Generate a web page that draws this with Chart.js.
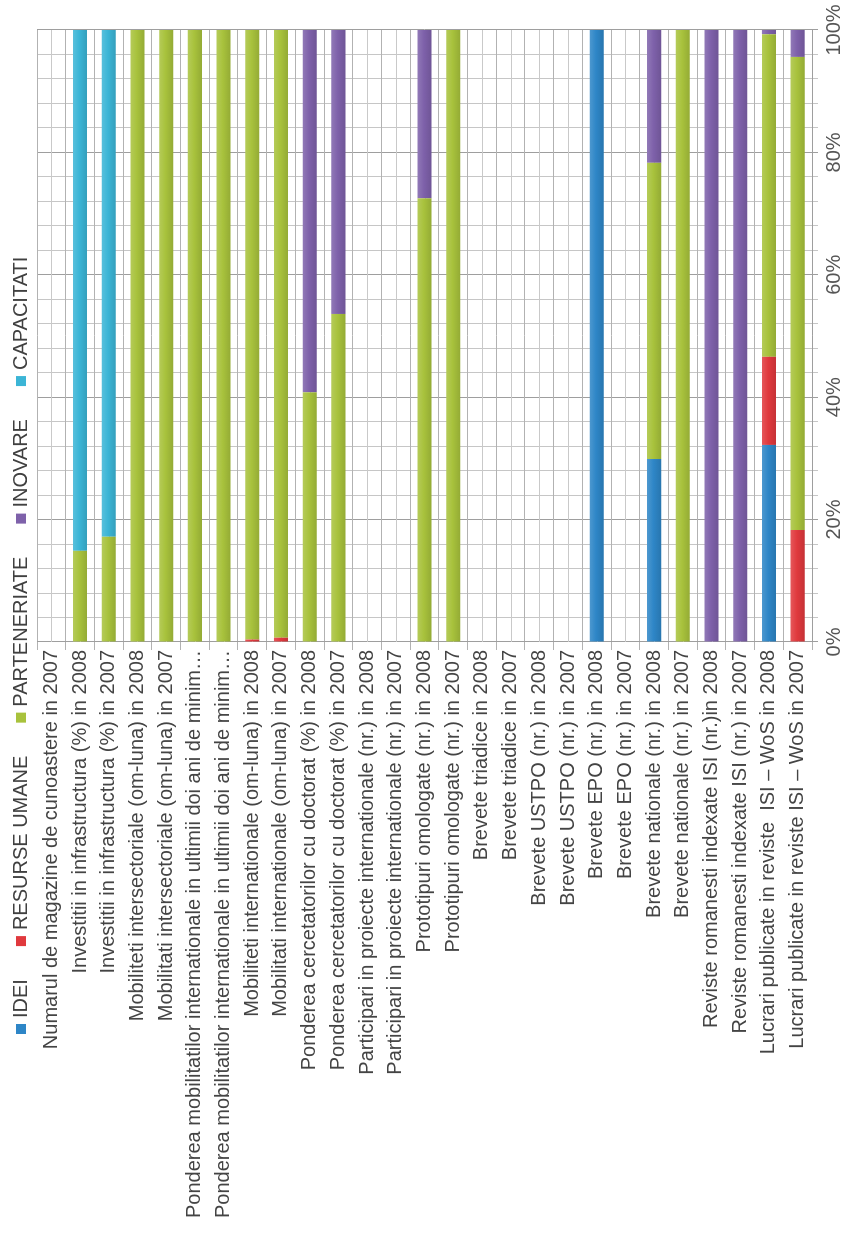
<!DOCTYPE html>
<html>
<head>
<meta charset="utf-8">
<script src="https://cdn.jsdelivr.net/npm/chart.js@4.4.1/dist/chart.umd.min.js"></script>
<style>
  html, body { margin: 0; padding: 0; background: #fff; overflow: hidden; }
  /* the chart is laid out landscape, then turned a quarter turn to the left */
  #wrap {
    position: absolute; left: 0; top: 0;
    width: 1250px; height: 849px;
    transform-origin: 0 0;
    transform: translate(0, 1250px) rotate(-90deg);
  }
</style>
</head>
<body>
<div id="wrap"><canvas id="bars"></canvas></div>
<script>
const categories = [
  "Numarul de magazine de cunoastere in 2007",
  "Investitii in infrastructura (%) in 2008",
  "Investitii in infrastructura (%) in 2007",
  "Mobiliteti intersectoriale (om-luna) in 2008",
  "Mobilitati intersectoriale (om-luna) in 2007",
  "Ponderea mobilitatilor internationale in ultimii doi ani de minim\u2026",
  "Ponderea mobilitatilor internationale in ultimii doi ani de minim\u2026",
  "Mobiliteti internationale (om-luna) in 2008",
  "Mobilitati internationale (om-luna) in 2007",
  "Ponderea cercetatorilor cu doctorat (%) in 2008",
  "Ponderea cercetatorilor cu doctorat (%) in 2007",
  "Participari in proiecte internationale (nr.) in 2008",
  "Participari in proiecte internationale (nr.) in 2007",
  "Prototipuri omologate (nr.) in 2008",
  "Prototipuri omologate (nr.) in 2007",
  "Brevete triadice in 2008",
  "Brevete triadice in 2007",
  "Brevete USTPO (nr.) in 2008",
  "Brevete USTPO (nr.) in 2007",
  "Brevete EPO (nr.) in 2008",
  "Brevete EPO (nr.) in 2007",
  "Brevete nationale (nr.) in 2008",
  "Brevete nationale (nr.) in 2007",
  "Reviste romanesti indexate ISI (nr.)in 2008",
  "Reviste romanesti indexate ISI (nr.) in 2007",
  "Lucrari publicate in reviste  ISI \u2013 WoS in 2008",
  "Lucrari publicate in reviste ISI \u2013 WoS in 2007"
];

// share of each programme, percent
const idei          = [0, 0, 0, 0, 0, 0, 0, 0, 0, 0, 0, 0, 0, 0, 0, 0, 0, 0, 0, 100, 0, 29.9, 0, 0, 0, 32.2, 0];
const resurseUmane  = [0, 0, 0, 0, 0, 0, 0, 0.4, 0.7, 0, 0, 0, 0, 0, 0, 0, 0, 0, 0, 0, 0, 0, 0, 0, 0, 14.4, 18.3];
const parteneriate  = [0, 14.9, 17.2, 100, 100, 100, 100, 99.6, 99.3, 40.8, 53.6, 0, 0, 72.5, 100, 0, 0, 0, 0, 0, 0, 48.4, 100, 0, 0, 52.7, 77.3];
const inovare       = [0, 0, 0, 0, 0, 0, 0, 0, 0, 59.2, 46.4, 0, 0, 27.5, 0, 0, 0, 0, 0, 0, 0, 21.7, 0, 100, 100, 0.7, 4.4];
const capacitati    = [0, 85.1, 82.8, 0, 0, 0, 0, 0, 0, 0, 0, 0, 0, 0, 0, 0, 0, 0, 0, 0, 0, 0, 0, 0, 0, 0, 0];

const seriesNames  = ["IDEI", "RESURSE UMANE", "PARTENERIATE", "INOVARE", "CAPACITATI"];
const seriesValues = [idei, resurseUmane, parteneriate, inovare, capacitati];
const seriesColors = ["#2e86c7", "#e0393d", "#a8c23c", "#7e61aa", "#3bb5d6"];

const percentTicks = [0, 20, 40, 60, 80, 100];

const FONT = "'Liberation Sans', Arial, sans-serif";

// mix a hex colour toward white (t > 0) or black (t < 0)
function tint(hex, t) {
  const n = parseInt(hex.slice(1), 16);
  const ch = [(n >> 16) & 255, (n >> 8) & 255, n & 255].map((v) =>
    Math.round(t > 0 ? v + (255 - v) * t : v * (1 + t))
  );
  return "rgb(" + ch.join(",") + ")";
}

// bars are shaded across their thickness, light edge to dark edge
function barFill(hex) {
  return (c) => {
    const chart = c.chart;
    const y = chart.scales && chart.scales.y;
    if (!y || c.dataIndex === undefined || !chart.chartArea) return hex;
    const mid = y.getPixelForValue(c.dataIndex);
    const g = chart.ctx.createLinearGradient(0, mid - 7, 0, mid + 7);
    g.addColorStop(0, tint(hex, 0.15));
    g.addColorStop(0.45, hex);
    g.addColorStop(1, tint(hex, -0.12));
    return g;
  };
}

// light line through the middle of every category row
const midLines = {
  id: "midLines",
  beforeDatasetsDraw(chart) {
    const { ctx, chartArea, scales } = chart;
    ctx.save();
    ctx.strokeStyle = "#c9c9c9";
    ctx.lineWidth = 1;
    categories.forEach((c, i) => {
      const y = Math.round(scales.y.getPixelForValue(i)) + 0.5;
      ctx.beginPath();
      ctx.moveTo(chartArea.left, y);
      ctx.lineTo(chartArea.right, y);
      ctx.stroke();
    });
    ctx.restore();
  }
};

// one-row legend along the top edge
const legendStart = 216;
const legendGap = 33;
const legendRow = {
  id: "legendRow",
  afterDraw(chart) {
    const { ctx } = chart;
    ctx.save();
    ctx.font = "20px " + FONT;
    ctx.textBaseline = "middle";
    let x = legendStart;
    const mid = 21;
    chart.data.datasets.forEach((ds, i) => {
      ctx.fillStyle = seriesColors[i];
      ctx.fillRect(x, mid - 5, 10, 10);
      x += 16;
      ctx.fillStyle = "#404040";
      ctx.fillText(ds.label, x, mid);
      x += ctx.measureText(ds.label).width + legendGap;
    });
    ctx.restore();
  }
};

Chart.defaults.font.family = FONT;
Chart.defaults.color = "#444";

new Chart(document.getElementById("bars"), {
  type: "bar",
  data: {
    labels: categories,
    datasets: seriesNames.map((name, i) => ({
      label: name,
      data: seriesValues[i],
      backgroundColor: barFill(seriesColors[i]),
      borderWidth: 0,
      categoryPercentage: 1,
      barPercentage: 0.49
    }))
  },
  options: {
    indexAxis: "y",
    responsive: true,
    maintainAspectRatio: false,
    animation: false,
    layout: { padding: { left: 0, right: 30, top: 37, bottom: 0 } },
    plugins: {
      tooltip: { enabled: false },
      legend: { display: false }
    },
    scales: {
      x: {
        stacked: true,
        min: 0,
        max: 100,
        grid: {
          color: (c) => (c.tick && percentTicks.includes(c.tick.value) ? "#9e9e9e" : "#c6c6c6"),
          tickLength: 6
        },
        border: { color: "#9e9e9e" },
        ticks: {
          stepSize: 4,
          autoSkip: false,
          maxRotation: 0,
          padding: 4,
          color: "#555",
          font: { size: 20 },
          callback: (v) => (percentTicks.includes(v) ? v + "%" : "")
        },
        afterFit(scale) { scale.height = 37; }
      },
      y: {
        stacked: true,
        offset: true,
        grid: { offset: true, color: "#b2b2b2", tickLength: 8 },
        border: { color: "#9e9e9e" },
        ticks: {
          autoSkip: false,
          padding: 0,
          color: "#444",
          font: { size: 20 }
        },
        afterFit(scale) { scale.width = 608; }
      }
    }
  },
  plugins: [midLines, legendRow]
});
</script>
</body>
</html>
